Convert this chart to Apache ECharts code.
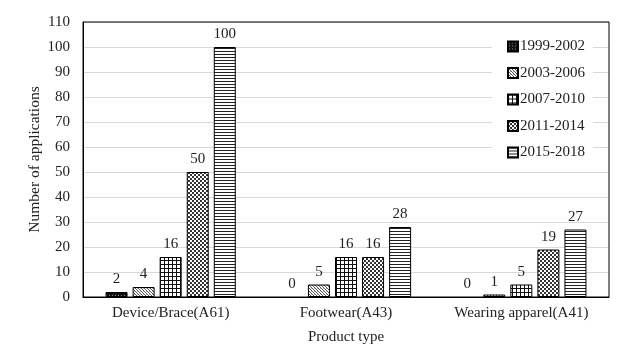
<!DOCTYPE html>
<html>
<head>
<meta charset="utf-8">
<script src="https://cdn.jsdelivr.net/npm/echarts@6/dist/echarts.min.js"></script>
<style>html,body{margin:0;padding:0;background:#fff;}#c{width:624px;height:355px;}</style>
</head>
<body>
<div id="c"></div>
<script>
const categories = ['Device/Brace(A61)', 'Footwear(A43)', 'Wearing apparel(A41)'];
const seriesNames = ['1999-2002', '2003-2006', '2007-2010', '2011-2014', '2015-2018'];
const v1999 = [2, 0, 0];
const v2003 = [4, 5, 1];
const v2007 = [16, 16, 5];
const v2011 = [50, 16, 19];
const v2015 = [100, 28, 27];
const yTicks = { min: 0, max: 110, interval: 10 };

function makePattern(size, draw) {
  const c = document.createElement('canvas');
  c.width = size; c.height = size;
  const ctx = c.getContext('2d');
  ctx.fillStyle = '#fff';
  ctx.fillRect(0, 0, size, size);
  draw(ctx);
  return { image: c, repeat: 'repeat' };
}
const patterns = [
  makePattern(3, ctx => { ctx.fillStyle = '#111'; ctx.fillRect(0,0,3,3); ctx.fillStyle = '#888'; ctx.fillRect(1,1,1,1); }),
  makePattern(3, ctx => { ctx.fillStyle = '#555'; for (let i = 0; i < 3; i++) ctx.fillRect(i, i, 1, 1); ctx.fillStyle = '#bbb'; ctx.fillRect(2, 0, 1, 1); }),
  makePattern(4, ctx => { ctx.fillStyle = '#111'; ctx.fillRect(0,0,4,1); ctx.fillRect(0,0,1,4); }),
  makePattern(4, ctx => { ctx.fillStyle = '#333'; ctx.fillRect(0,0,2,2); ctx.fillRect(2,2,2,2); }),
  makePattern(3, ctx => { ctx.fillStyle = '#222'; ctx.fillRect(0,0,3,1); })
];
const values = [v1999, v2003, v2007, v2011, v2015];
const font = 'Liberation Serif';

const chart = echarts.init(document.getElementById('c'), null, { renderer: 'canvas' });
chart.setOption({
  animation: false,
  backgroundColor: '#fff',
  textStyle: { fontFamily: font },
  grid: { left: 83, right: 15, top: 22, bottom: 58, show: true, borderColor: '#000', borderWidth: 1, backgroundColor: 'transparent', z: 3 },
  legend: {
    orient: 'vertical', left: 492, top: 30,
    padding: [9, 8, 8, 15],
    backgroundColor: '#fff',
    itemWidth: 10, itemHeight: 10, itemGap: 11.5,
    icon: 'rect',
    textStyle: { fontFamily: font, fontSize: 15, color: '#222', padding: [0, 0, 0, -3] },
    data: seriesNames
  },
  xAxis: {
    type: 'category', data: categories,
    name: 'Product type', nameLocation: 'middle', nameGap: 33,
    nameTextStyle: { fontFamily: font, fontSize: 15, color: '#222' },
    axisLine: { show: true, lineStyle: { color: '#000', width: 1 } },
    axisTick: { show: false },
    axisLabel: { fontFamily: font, fontSize: 15, color: '#222', margin: 9 },
    splitLine: { show: false }
  },
  yAxis: {
    type: 'value', min: yTicks.min, max: yTicks.max, interval: yTicks.interval,
    name: 'Number of applications', nameLocation: 'middle', nameGap: 40,
    nameMoveOverlap: false,
    nameTextStyle: { fontFamily: font, fontSize: 15.5, color: '#222' },
    axisLine: { show: true, lineStyle: { color: '#000' } },
    axisTick: { show: false },
    axisLabel: { fontFamily: font, fontSize: 15, color: '#222', margin: 13 },
    splitLine: { show: true, lineStyle: { color: '#d9d9d9', width: 1 } }
  },
  series: seriesNames.map((n, i) => ({
    name: n, type: 'bar',
    data: values[i].map(v => ({ value: v, itemStyle: { borderWidth: v === 0 ? 0 : 1 } })),
    barWidth: 22, barGap: '23%',
    itemStyle: { color: patterns[i], borderColor: '#000', borderWidth: 1 },
    label: { show: true, position: 'top', distance: 5, fontFamily: font, fontSize: 15, color: '#222' }
  }))
});
</script>
</body>
</html>
